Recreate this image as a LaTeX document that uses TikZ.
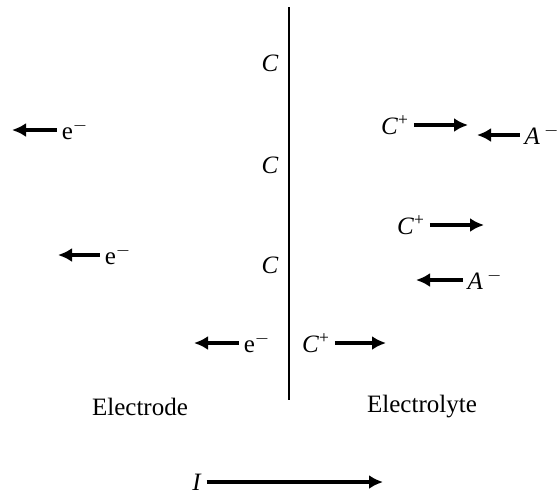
\documentclass[tikz,border=0pt]{standalone}
\usepackage{fontspec}
\setmainfont{Liberation Serif}
\usetikzlibrary{arrows.meta}
\tikzset{
  flow/.style={line width=2pt,-{Latex[length=7pt,width=7pt]}},
  lbl/.style={font=\fontsize{12.5}{14}\selectfont,inner sep=0pt,outer sep=2.5pt},
}
\begin{document}
\begin{tikzpicture}[x=0.5pt,y=-0.5pt]
  \useasboundingbox (0,0) rectangle (557,495);
  % interface
  \coordinate (top) at (289,7);
  \coordinate (bot) at (289,400);
  \draw[line width=1.4pt] (top) -- (bot);
  \node[lbl] (c1) at (270,63) {\textit{C}};
  \node[lbl] (c2) at (270,165) {\textit{C}};
  \node[lbl] (c3) at (270,265) {\textit{C}};
  % electrons in the electrode
  \node[lbl] (e1) at (75,130) {e\textsuperscript{$-$}};
  \node[lbl] (e2) at (118,255) {e\textsuperscript{$-$}};
  \node[lbl] (e3) at (257,343) {e\textsuperscript{$-$}};
  \coordinate (e1tip) at (12,130);
  \coordinate (e2tip) at (58,255);
  \coordinate (e3tip) at (194,343);
  \draw[flow] (e1) -- (e1tip);
  \draw[flow] (e2) -- (e2tip);
  \draw[flow] (e3) -- (e3tip);
  % ions in the electrolyte
  \node[lbl] (cp1) at (395,125) {\textit{C}\textsuperscript{+}};
  \node[lbl] (cp2) at (411,225) {\textit{C}\textsuperscript{+}};
  \node[lbl] (cp3) at (316,343) {\textit{C}\textsuperscript{+}};
  \node[lbl] (am1) at (542,135) {\textit{A}\,\textsuperscript{$-$}};
  \node[lbl] (am2) at (485,280) {\textit{A}\,\textsuperscript{$-$}};
  \coordinate (cp1tip) at (468,125);
  \coordinate (cp2tip) at (484,225);
  \coordinate (cp3tip) at (386,343);
  \coordinate (am1tip) at (477,135);
  \coordinate (am2tip) at (416,280);
  \draw[flow] (cp1) -- (cp1tip);
  \draw[flow] (cp2) -- (cp2tip);
  \draw[flow] (cp3) -- (cp3tip);
  \draw[flow] (am1) -- (am1tip);
  \draw[flow] (am2) -- (am2tip);
  % sides and current
  \node[lbl] (electrode) at (140,407) {Electrode};
  \node[lbl] (electrolyte) at (422,407) {Electrolyte};
  \node[lbl] (cur) at (197,482) {\textit{I}};
  \coordinate (curtip) at (383,482);
  \draw[flow] (cur) -- (curtip);
\end{tikzpicture}
\end{document}
